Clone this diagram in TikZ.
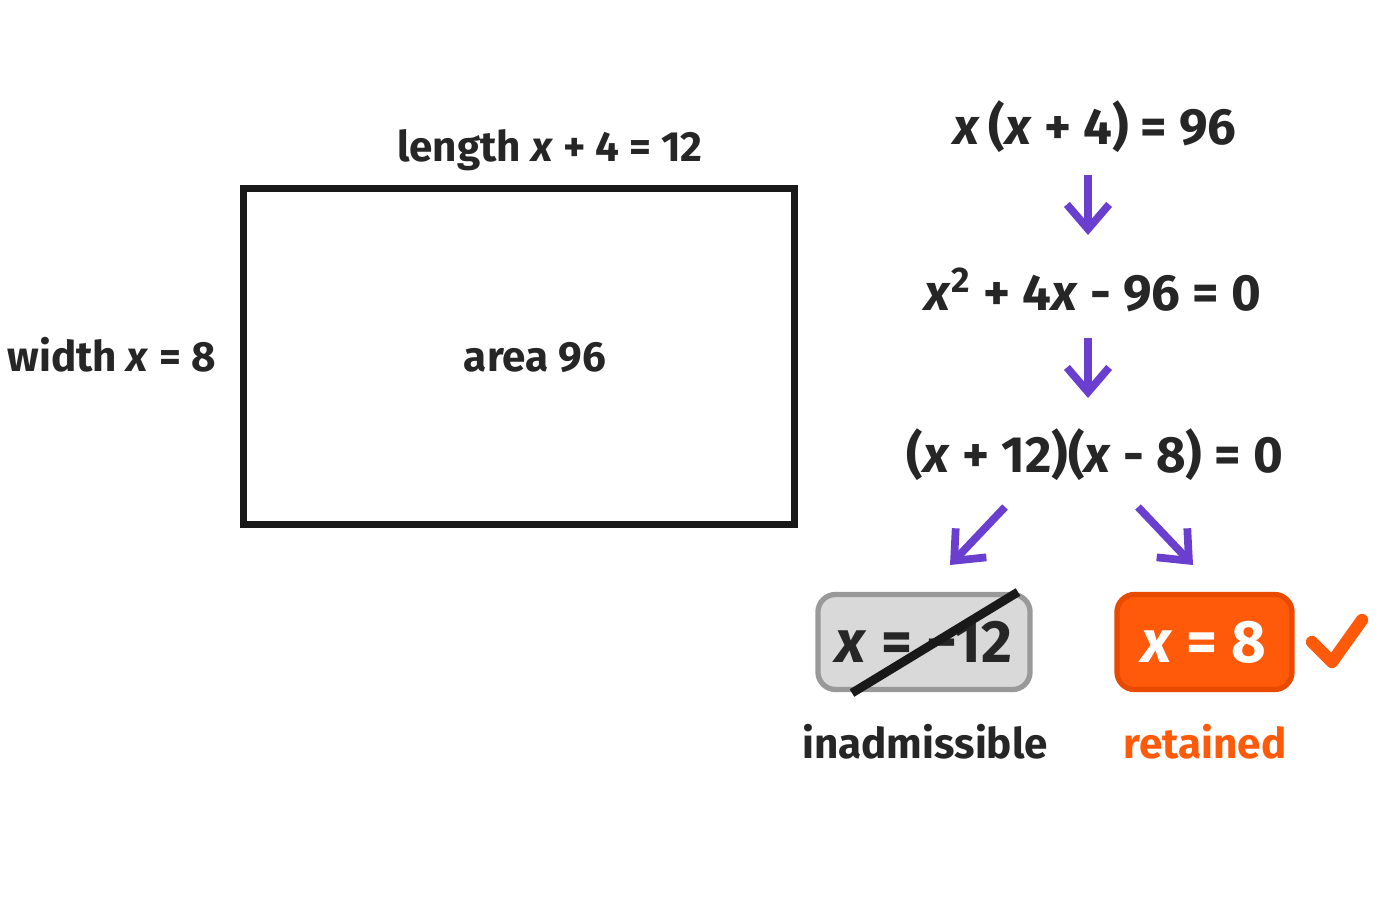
\documentclass[tikz,border=0pt]{standalone}
\usepackage{fontspec}
\setmainfont{Fira Sans}
\usetikzlibrary{arrows.meta}
\definecolor{pur}{HTML}{6A3FD0}
\definecolor{org}{HTML}{FF5A0A}
\definecolor{orgd}{HTML}{E84A00}
\begin{document}
\begin{tikzpicture}[x=0.01cm,y=-0.01cm,
 lab/.style={font=\fontsize{12}{15}\selectfont\bfseries, text=black!85},
 eq/.style={font=\fontsize{14.5}{17}\selectfont\bfseries, text=black!85},
 arr/.style={pur, line width=2.2pt, -{Straight Barb[length=7pt,width=12pt]}}]
\useasboundingbox (0,0) rectangle (1400,900);
\node[draw=black!90, line width=2pt, minimum width=5.5cm, minimum height=3.35cm, inner sep=0] (rect) at (519,356.5) {};
\node[lab] (len) at (550,150) {length \textit{x} + 4 = 12};
\node[lab, anchor=east] (wid) at (228,355) {width \textit{x} = 8};
\node[lab] (area) at (535,358) {area 96};
\node[eq] (e1) at (1095,127) {\textit{x}\,(\textit{x} + 4) = 96};
\node[eq] (e2) at (1093,290) {\textit{x}\textsuperscript{2} + 4\textit{x} - 96 = 0};
\node[eq] (e3) at (1095,455) {(\textit{x} + 12)(\textit{x} - 8) = 0};
\coordinate (a1) at (1088,175); \coordinate (b1) at (1088,235);
\coordinate (a2) at (1088,338); \coordinate (b2) at (1088,398);
\draw[arr] (a1) -- (b1);
\draw[arr] (a2) -- (b2);
\coordinate (c1) at (1005,507); \coordinate (d1) at (950,565);
\coordinate (c2) at (1138,507); \coordinate (d2) at (1193,565);
\draw[arr] (c1) -- (d1);
\draw[arr] (c2) -- (d2);
\node[draw=black!40, fill=black!15, line width=1.5pt, rounded corners=5pt, minimum width=2.12cm, minimum height=0.95cm, inner sep=0] (bad) at (924,642) {};
\node[eq, font=\fontsize{17}{20}\selectfont\bfseries] (badt) at (924,642) {\textit{x} = −12};
\coordinate (s1) at (852,693); \coordinate (s2) at (1018,592);
\draw[black!90, line width=2.5pt] (s1) -- (s2);
\node[draw=orgd, fill=org, line width=1.5pt, rounded corners=5pt, minimum width=1.75cm, minimum height=0.95cm, inner sep=0] (goodbox) at (1204.5,642) {};
\node[eq, text=white, font=\fontsize{17}{20}\selectfont\bfseries] (good) at (1204,642) {\textit{x} = 8};
\draw[org, line width=3.5pt, line cap=round, line join=round] (1312,642) -- (1332,662) -- (1362,620);
\node[lab] (inad) at (925,742) {inadmissible};
\node[lab, text=org] (ret) at (1205,742) {retained};
\end{tikzpicture}
\end{document}
